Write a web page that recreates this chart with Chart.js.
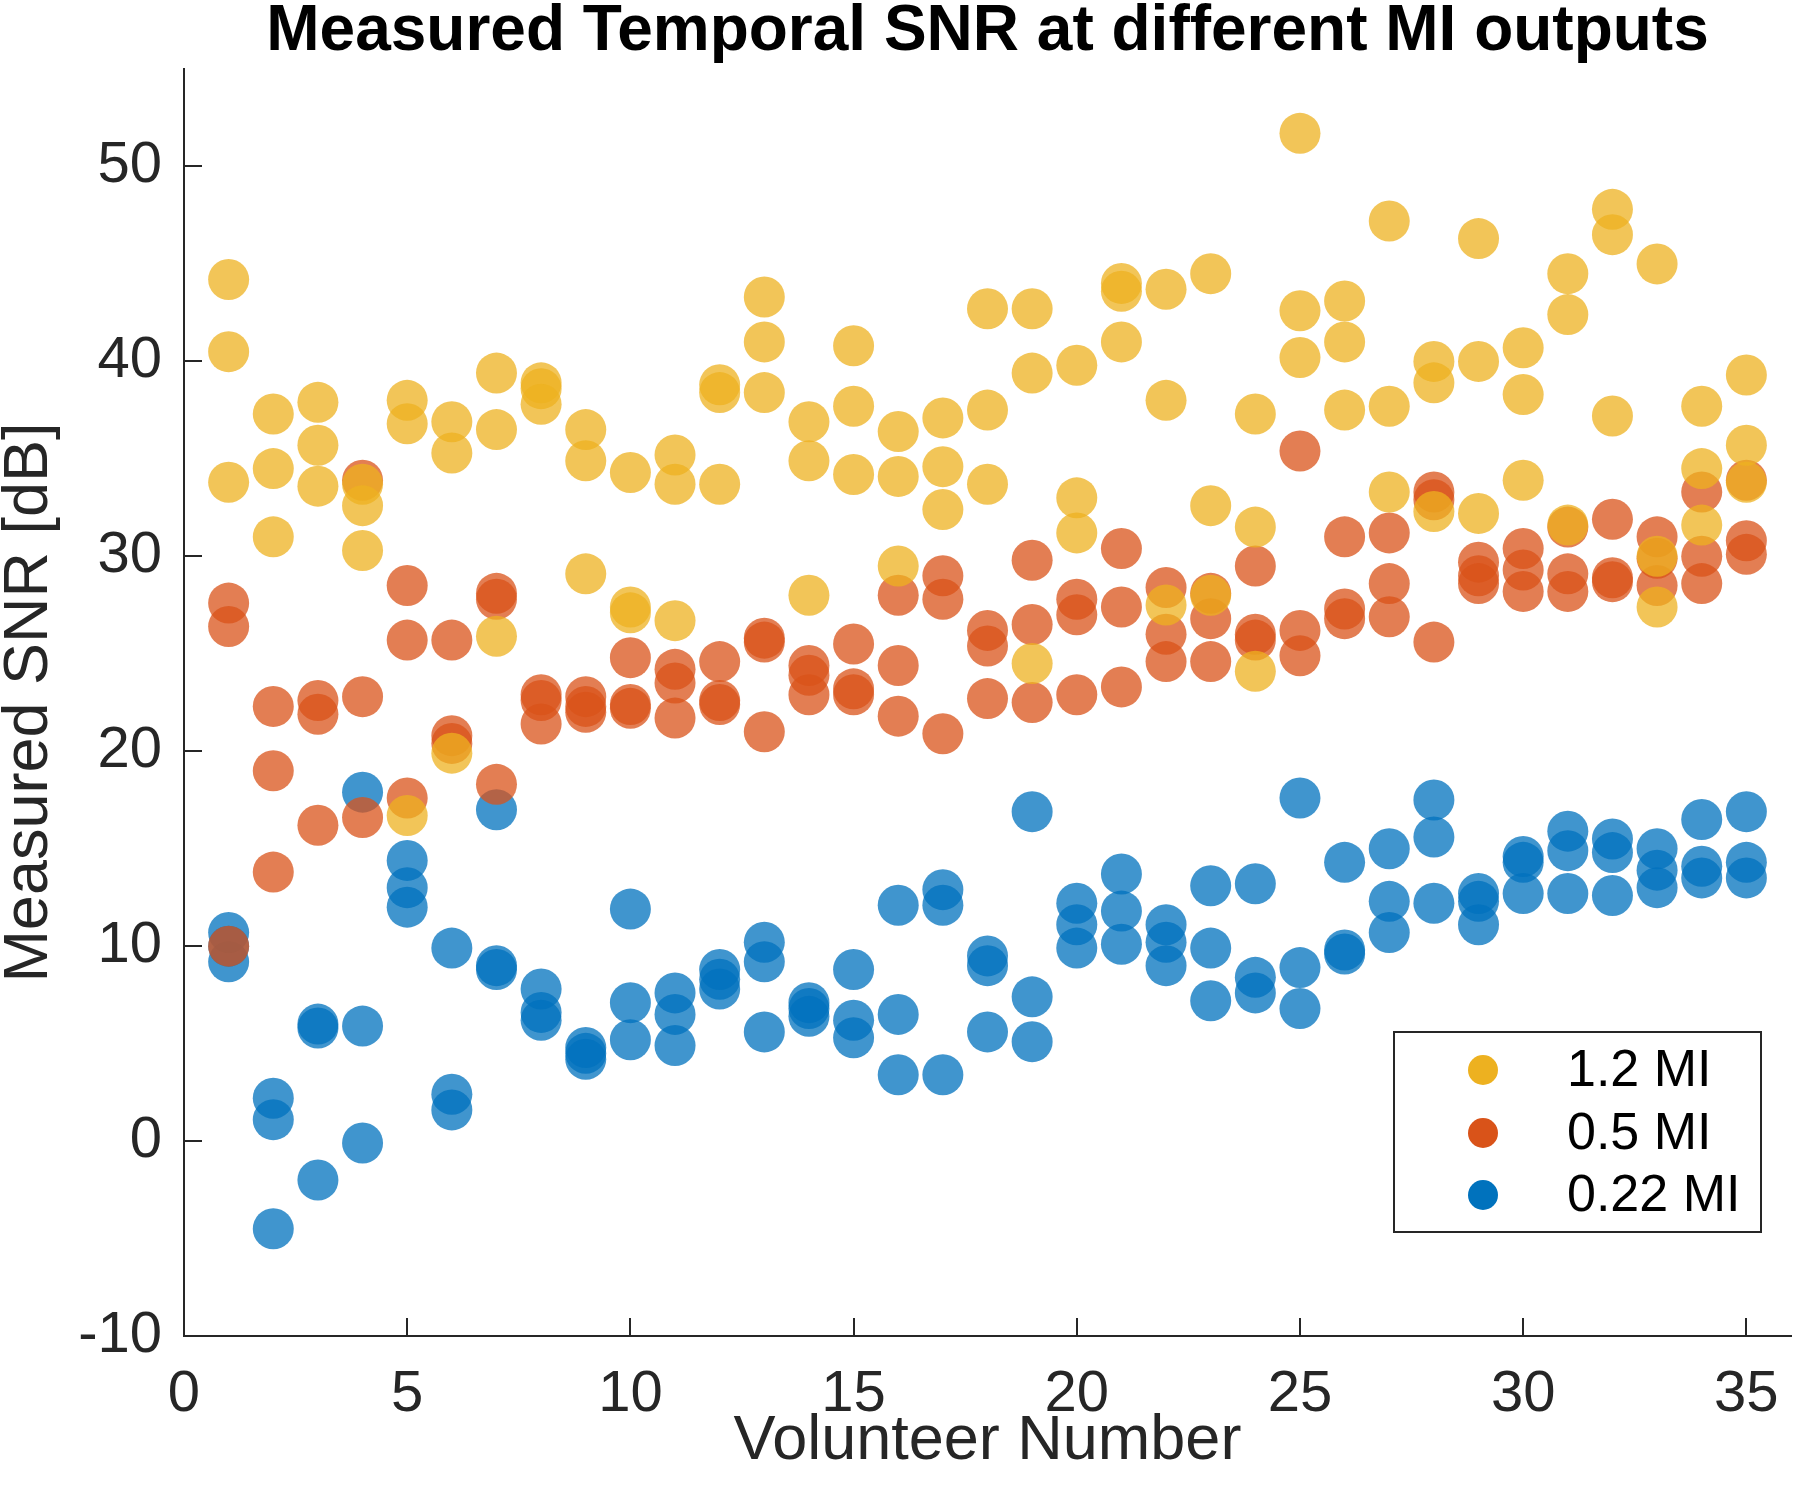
<!DOCTYPE html>
<html>
<head>
<meta charset="utf-8">
<title>Measured Temporal SNR</title>
<script src="https://cdn.jsdelivr.net/npm/chart.js@4.4.1/dist/chart.umd.min.js"></script>
<style>
    body { margin: 0; background: #ffffff; }
    #contenitore { width: 1800px; height: 1497px; }
</style>
</head>
<body>
<div id="contenitore"><canvas id="grafico" width="1800" height="1497"></canvas></div>
<script>
// volunteer number, three repeated measurements per volunteer
var volontari = [1,2,3,4,5,6,7,8,9,10,11,12,13,14,15,16,17,18,19,20,21,22,23,24,25,26,27,28,29,30,31,32,33,34,35];

var snr12 = [
    [44.2,40.5,33.8],[37.3,34.5,31.0],[37.9,35.7,33.6],[33.7,32.6,30.3],[38.0,36.8,16.7],
    [36.9,35.3,19.9],[39.4,36.5,25.9],[38.9,38.6,37.8],[36.5,34.9,29.1],[34.3,27.4,27.1],
    [35.2,33.7,26.7],[38.8,38.4,33.7],[43.3,41.0,38.4],[36.9,34.9,28.0],[40.8,37.7,34.2],
    [36.4,34.1,29.5],[37.1,34.6,32.4],[42.7,37.5,33.7],[42.7,39.4,24.5],[39.8,33.0,31.2],
    [44.0,43.6,41.0],[43.7,38.0,27.5],[44.5,32.6,28.0],[37.3,31.5,24.1],[51.7,42.6,40.2],
    [43.1,41.0,37.5],[47.2,37.7,33.3],[40.0,38.9,32.3],[46.3,40.0,32.2],[40.7,38.3,33.9],
    [44.5,42.4,31.6],[47.8,46.5,37.2],[45.0,30.0,27.4],[37.7,34.5,31.6],[39.3,35.7,33.8]
];

var snr05 = [
    [27.6,26.4,10.0],[22.3,19.0,13.8],[22.6,21.9,16.2],[33.9,22.8,16.6],[28.5,25.7,17.6],
    [25.7,20.8,20.4],[28.1,27.8,18.3],[22.9,22.6,21.4],[22.8,22.3,22.0],[24.8,22.4,22.2],
    [24.2,23.5,21.7],[24.6,22.6,22.4],[25.8,25.6,21.0],[24.4,23.9,22.9],[25.5,23.2,22.9],
    [28.0,24.4,21.8],[29.0,27.8,20.9],[26.2,25.4,22.7],[29.8,26.5,22.5],[27.8,27.0,22.9],
    [30.4,27.4,23.3],[28.4,26.0,24.6],[28.1,26.8,24.6],[29.5,26.0,25.7],[35.4,26.2,24.9],
    [31.0,27.3,26.8],[31.2,28.6,26.9],[33.3,32.9,25.6],[29.7,29.0,28.6],[30.4,29.3,28.2],
    [31.5,29.1,28.2],[31.9,28.9,28.7],[31.0,29.9,28.5],[33.3,30.0,28.6],[33.9,30.8,30.1]
];

var snr022 = [
    [10.7,10.0,9.2],[2.2,1.1,-4.5],[6.0,5.8,-2.0],[17.9,5.9,-0.1],[14.4,13.0,12.0],
    [9.9,2.4,1.6],[17.0,9.0,8.8],[7.8,6.6,6.2],[4.8,4.5,4.2],[11.9,7.1,5.2],
    [7.6,6.5,4.9],[8.8,8.3,7.8],[10.2,9.2,5.6],[7.1,6.8,6.4],[8.8,6.2,5.3],
    [12.1,6.5,3.4],[12.9,12.1,3.4],[9.5,9.0,5.6],[16.9,7.4,5.1],[12.2,11.1,9.9],
    [13.7,11.8,10.1],[11.1,10.2,9.0],[13.1,9.9,7.2],[13.2,8.4,7.6],[17.6,8.9,6.8],
    [14.3,9.8,9.6],[15.0,12.3,10.7],[17.5,15.6,12.2],[12.7,12.3,11.1],[14.6,14.3,12.7],
    [15.9,14.9,12.7],[15.5,14.8,12.6],[15.0,13.9,13.0],[16.5,14.1,13.5],[16.9,14.3,13.5]
];

var etichette = ["1.2 MI", "0.5 MI", "0.22 MI"];
var xTicks = [0,5,10,15,20,25,30,35];
var yTicks = [-10,0,10,20,30,40,50];

var colori = ["#EDB120", "#D95319", "#0072BD"];
var coloriTrasp = ["rgba(237,177,32,0.75)", "rgba(217,83,25,0.75)", "rgba(0,114,189,0.75)"];
var font = "'Liberation Sans', Arial, Helvetica, sans-serif";

function punti(serie) {
    var p = [];
    for (var i = 0; i < volontari.length; i++) {
        for (var j = 0; j < serie[i].length; j++) {
            p.push({x: volontari[i], y: serie[i][j]});
        }
    }
    return p;
}

// legend drawn as a framed box inside the plot, like the original figure
var legendaBox = {
    id: 'legendaBox',
    afterDraw: function (chart) {
        var ctx = chart.ctx;
        var bx = 1394, by = 1032, bw = 367, bh = 200;
        ctx.save();
        ctx.fillStyle = "#ffffff";
        ctx.fillRect(bx, by, bw, bh);
        ctx.strokeStyle = "#262626";
        ctx.lineWidth = 2;
        ctx.strokeRect(bx, by, bw, bh);
        ctx.font = "52px " + font;
        ctx.textBaseline = "middle";
        ctx.textAlign = "left";
        var righe = [1070, 1133, 1195];
        for (var i = 0; i < chart.data.datasets.length; i++) {
            ctx.fillStyle = colori[i];
            ctx.beginPath();
            ctx.arc(1483, righe[i], 15, 0, Math.PI * 2);
            ctx.fill();
            ctx.fillStyle = "#000000";
            ctx.fillText(chart.data.datasets[i].label, 1567, righe[i] + 2);
        }
        ctx.restore();
    }
};

var ctx = document.getElementById("grafico");
var grafico = new Chart(ctx, {
    type: 'scatter',
    data: {
        datasets: [{
            label: etichette[0],
            data: punti(snr12),
            backgroundColor: coloriTrasp[0],
            borderWidth: 0
        }, {
            label: etichette[1],
            data: punti(snr05),
            backgroundColor: coloriTrasp[1],
            borderWidth: 0
        }, {
            label: etichette[2],
            data: punti(snr022),
            backgroundColor: coloriTrasp[2],
            borderWidth: 0
        }]
    },
    options: {
        responsive: false,
        animation: false,
        devicePixelRatio: 1,
        elements: {
            point: { radius: 20.5, hoverRadius: 20.5, borderWidth: 0 }
        },
        layout: { autoPadding: false, padding: { left: 0, right: 9, top: 0, bottom: 0 } },
        plugins: {
            legend: { display: false },
            tooltip: { enabled: false },
            title: {
                display: true,
                fullSize: false,
                text: "Measured Temporal SNR at different MI outputs",
                color: "#000000",
                font: { family: font, size: 64, weight: 'bold', lineHeight: 1.0 },
                padding: { top: 0, bottom: 5 }
            }
        },
        scales: {
            x: {
                type: 'linear',
                position: 'bottom',
                min: 0,
                max: 36,
                afterFit: function (scale) {
                    scale.height = 161;
                    scale.paddingLeft = 0;
                    scale.paddingRight = 0;
                },
                afterBuildTicks: function (scale) {
                    scale.ticks = xTicks.map(function (v) { return {value: v}; });
                },
                ticks: {
                    autoSkip: false,
                    maxRotation: 0,
                    includeBounds: false,
                    color: "#262626",
                    padding: 42,
                    font: { family: font, size: 58 }
                },
                grid: {
                    drawOnChartArea: false,
                    drawTicks: true,
                    tickLength: -18,
                    color: "#262626",
                    lineWidth: 2
                },
                border: { display: true, color: "#262626", width: 2 },
                title: {
                    display: true,
                    text: "Volunteer Number",
                    color: "#262626",
                    font: { family: font, size: 63, lineHeight: 1.2 },
                    padding: { top: 0, bottom: 18 }
                }
            },
            y: {
                type: 'linear',
                min: -10,
                max: 55,
                afterFit: function (scale) {
                    scale.width = 184;
                    scale.paddingTop = 0;
                    scale.paddingBottom = 0;
                },
                afterBuildTicks: function (scale) {
                    scale.ticks = yTicks.map(function (v) { return {value: v}; });
                },
                ticks: {
                    autoSkip: false,
                    includeBounds: false,
                    color: "#262626",
                    padding: 40,
                    font: { family: font, size: 58 }
                },
                grid: {
                    drawOnChartArea: false,
                    drawTicks: true,
                    tickLength: -18,
                    color: "#262626",
                    lineWidth: 2
                },
                border: { display: true, color: "#262626", width: 2 },
                title: {
                    display: true,
                    text: "Measured SNR [dB]",
                    color: "#262626",
                    font: { family: font, size: 63, lineHeight: 0.95 },
                    padding: { top: 0, bottom: 0 }
                }
            }
        }
    },
    plugins: [legendaBox]
});
</script>
</body>
</html>
